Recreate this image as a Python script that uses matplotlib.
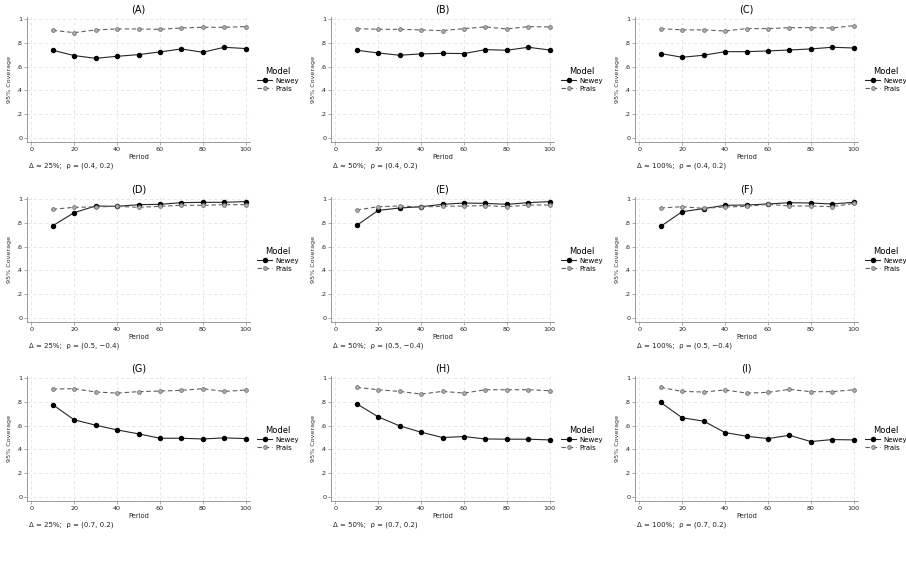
import numpy as np
import matplotlib
matplotlib.use("Agg")
import matplotlib.pyplot as plt

period = [10, 20, 30, 40, 50, 60, 70, 80, 90, 100]
panel_titles = ["(A)", "(B)", "(C)", "(D)", "(E)", "(F)", "(G)", "(H)", "(I)"]
captions = [
    "\u0394 = 25%;  \u03c1 = (0.4, 0.2)",
    "\u0394 = 50%;  \u03c1 = (0.4, 0.2)",
    "\u0394 = 100%;  \u03c1 = (0.4, 0.2)",
    "\u0394 = 25%;  \u03c1 = (0.5, \u22120.4)",
    "\u0394 = 50%;  \u03c1 = (0.5, \u22120.4)",
    "\u0394 = 100%;  \u03c1 = (0.5, \u22120.4)",
    "\u0394 = 25%;  \u03c1 = (0.7, 0.2)",
    "\u0394 = 50%;  \u03c1 = (0.7, 0.2)",
    "\u0394 = 100%;  \u03c1 = (0.7, 0.2)",
]

newey_A = [0.737, 0.692, 0.669, 0.686, 0.700, 0.723, 0.748, 0.720, 0.762, 0.751]
prais_A = [0.905, 0.885, 0.908, 0.916, 0.916, 0.913, 0.924, 0.930, 0.930, 0.936]
newey_B = [0.737, 0.714, 0.695, 0.706, 0.711, 0.709, 0.742, 0.737, 0.762, 0.739]
prais_B = [0.919, 0.913, 0.913, 0.908, 0.902, 0.919, 0.933, 0.916, 0.936, 0.933]
newey_C = [0.709, 0.678, 0.695, 0.725, 0.725, 0.731, 0.739, 0.748, 0.762, 0.756]
prais_C = [0.919, 0.908, 0.908, 0.899, 0.919, 0.919, 0.927, 0.927, 0.924, 0.944]
newey_D = [0.775, 0.885, 0.941, 0.938, 0.952, 0.955, 0.969, 0.972, 0.972, 0.978]
prais_D = [0.913, 0.930, 0.933, 0.938, 0.930, 0.938, 0.947, 0.947, 0.952, 0.952]
newey_E = [0.778, 0.904, 0.924, 0.935, 0.955, 0.966, 0.963, 0.955, 0.969, 0.978]
prais_E = [0.907, 0.935, 0.941, 0.933, 0.938, 0.941, 0.944, 0.935, 0.949, 0.949]
newey_F = [0.770, 0.893, 0.919, 0.947, 0.949, 0.958, 0.969, 0.966, 0.958, 0.972]
prais_F = [0.924, 0.935, 0.921, 0.933, 0.938, 0.955, 0.941, 0.941, 0.935, 0.963]
newey_G = [0.775, 0.648, 0.603, 0.563, 0.530, 0.493, 0.493, 0.487, 0.496, 0.490]
prais_G = [0.907, 0.910, 0.882, 0.873, 0.885, 0.890, 0.896, 0.910, 0.887, 0.899]
newey_H = [0.783, 0.673, 0.597, 0.544, 0.499, 0.507, 0.487, 0.485, 0.485, 0.479]
prais_H = [0.921, 0.901, 0.887, 0.865, 0.887, 0.873, 0.901, 0.901, 0.901, 0.893]
newey_I = [0.794, 0.665, 0.637, 0.541, 0.510, 0.490, 0.518, 0.465, 0.482, 0.479]
prais_I = [0.921, 0.887, 0.882, 0.899, 0.873, 0.879, 0.904, 0.885, 0.885, 0.901]

newey_all = [newey_A, newey_B, newey_C, newey_D, newey_E, newey_F, newey_G, newey_H, newey_I]
prais_all = [prais_A, prais_B, prais_C, prais_D, prais_E, prais_F, prais_G, prais_H, prais_I]

W, H = 906, 572
fig = plt.figure(figsize=(W / 100, H / 100), dpi=100)
fig.patch.set_facecolor("white")

# pixel boxes of the plot regions (left, right) per column, (top, bottom) per row
cols = [(27, 250), (331, 554), (635, 858)]
rows = [(16.6, 142), (196.6, 322), (375.6, 501)]

for i in range(9):
    r, c = divmod(i, 3)
    l, rt = cols[c]
    t, b = rows[r]
    ax = fig.add_axes([l / W, 1 - b / H, (rt - l) / W, (b - t) / H])
    ax.plot(period, newey_all[i], color="#262626", lw=0.8, marker="o",
            ms=2.9, mfc="black", mec="black", label="Newey")
    ax.plot(period, prais_all[i], color="#606060", lw=0.8, ls=(0, (4, 2.5)),
            marker="o", ms=2.7, mfc="#b0b0b0", mec="#707070", mew=0.6,
            label="Prais")
    ax.set_xlim(-2, 102)
    ax.set_ylim(-0.035, 1.02)
    ax.set_xticks([0, 20, 40, 60, 80, 100])
    ax.set_yticks([0, 0.2, 0.4, 0.6, 0.8, 1.0])
    ax.set_yticklabels(["0", ".2", ".4", ".6", ".8", "1"])
    ax.grid(True, color="#e4e4e4", ls=(0, (4, 3)), lw=0.6)
    ax.set_axisbelow(True)
    for s in ["top", "right"]:
        ax.spines[s].set_visible(False)
    for s in ["left", "bottom"]:
        ax.spines[s].set_color("#8a8a8a")
        ax.spines[s].set_linewidth(0.6)
    ax.tick_params(labelsize=4.6, length=2, width=0.5, color="#8a8a8a",
                   pad=1.5, labelcolor="#222222")
    ax.set_xlabel("Period", fontsize=4.8, labelpad=1.5, color="#222222")
    ax.set_ylabel("95% Coverage", fontsize=4.6, labelpad=3, color="#3a2a2a")
    ax.set_title(panel_titles[i], fontsize=7, pad=3)
    ax.text(0.01, -0.19, captions[i], transform=ax.transAxes, fontsize=5,
            ha="left", va="center", color="#222222")
    leg = ax.legend(loc="center left", bbox_to_anchor=(1.01, 0.5),
                    title="Model", frameon=False, fontsize=5,
                    title_fontsize=6, handlelength=2.2, handletextpad=0.4,
                    labelspacing=0.3, borderpad=0.2)
    leg._legend_box.align = "center"

fig.savefig("out.png", dpi=100, facecolor="white")
